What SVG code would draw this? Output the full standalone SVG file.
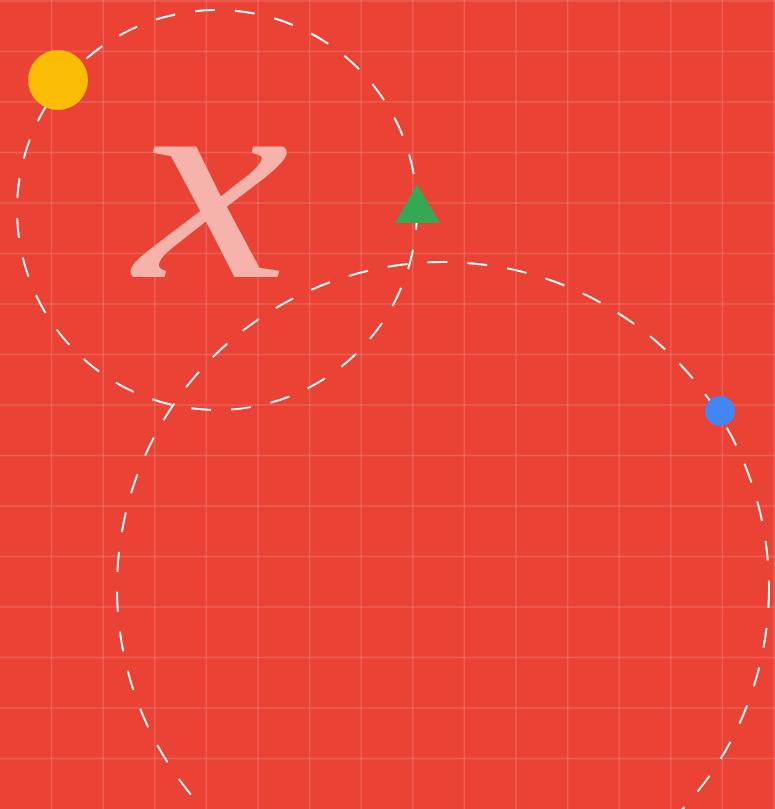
<svg xmlns="http://www.w3.org/2000/svg" width="775" height="809" viewBox="0 0 775 809">
<defs>
<style>
.grid line{stroke:#ffffff;stroke-opacity:0.15;stroke-width:1.5}
.dash{fill:none;stroke:#ffffff;stroke-width:2;stroke-dasharray:20 20}
</style>
</defs>
<rect x="0" y="0" width="775" height="809" fill="#EA4335"/>
<g class="grid">
<line x1="51.6" y1="0" x2="51.6" y2="809"/>
<line x1="103.2" y1="0" x2="103.2" y2="809"/>
<line x1="154.8" y1="0" x2="154.8" y2="809"/>
<line x1="206.4" y1="0" x2="206.4" y2="809"/>
<line x1="258" y1="0" x2="258" y2="809"/>
<line x1="309.6" y1="0" x2="309.6" y2="809"/>
<line x1="361.2" y1="0" x2="361.2" y2="809"/>
<line x1="412.8" y1="0" x2="412.8" y2="809"/>
<line x1="464.4" y1="0" x2="464.4" y2="809"/>
<line x1="516" y1="0" x2="516" y2="809"/>
<line x1="567.6" y1="0" x2="567.6" y2="809"/>
<line x1="619.2" y1="0" x2="619.2" y2="809"/>
<line x1="670.8" y1="0" x2="670.8" y2="809"/>
<line x1="722.4" y1="0" x2="722.4" y2="809"/>
<line x1="774" y1="0" x2="774" y2="809"/>
<line x1="0" y1="1" x2="775" y2="1"/>
<line x1="0" y1="51.5" x2="775" y2="51.5"/>
<line x1="0" y1="102" x2="775" y2="102"/>
<line x1="0" y1="152.5" x2="775" y2="152.5"/>
<line x1="0" y1="203" x2="775" y2="203"/>
<line x1="0" y1="253.5" x2="775" y2="253.5"/>
<line x1="0" y1="304" x2="775" y2="304"/>
<line x1="0" y1="354.5" x2="775" y2="354.5"/>
<line x1="0" y1="405" x2="775" y2="405"/>
<line x1="0" y1="455.5" x2="775" y2="455.5"/>
<line x1="0" y1="506" x2="775" y2="506"/>
<line x1="0" y1="556.5" x2="775" y2="556.5"/>
<line x1="0" y1="607" x2="775" y2="607"/>
<line x1="0" y1="657.5" x2="775" y2="657.5"/>
<line x1="0" y1="708" x2="775" y2="708"/>
<line x1="0" y1="758.5" x2="775" y2="758.5"/>
</g>
<g id="orbits">
<circle class="dash" cx="217" cy="210" r="200"/>
<circle class="dash" cx="443" cy="588" r="326"/>
</g>
<g id="label-x">
<text x="0" y="0" transform="translate(212,277) scale(1.2,0.98)" font-family="'Liberation Serif', serif" font-style="italic" font-size="290" fill="#F6B3AC" text-anchor="middle">x</text>
</g>
<g id="sun"><circle cx="58" cy="80" r="30" fill="#FBBC05"/></g>
<g id="triangle"><polygon points="417,184 395,223 440,223" fill="#34A853"/></g>
<g id="planet"><circle cx="720" cy="411" r="15" fill="#4285F4"/></g>
</svg>
